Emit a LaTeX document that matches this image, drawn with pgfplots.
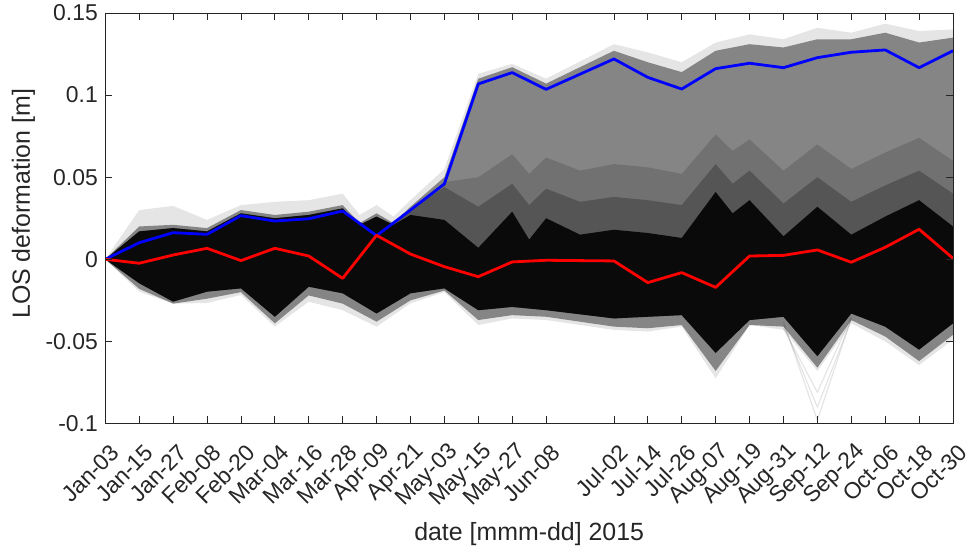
\documentclass[border=0pt]{standalone}
\usepackage{fontspec}
\setmainfont{Liberation Sans}
\usepackage{pgfplots}
\usepackage{pgfplotstable}
\pgfplotsset{compat=1.18}
\usepgfplotslibrary{fillbetween}

\definecolor{axgray}{HTML}{262626}
\definecolor{losblue}{RGB}{0,0,255}
\definecolor{losred}{RGB}{255,0,0}
\definecolor{core}{HTML}{0A0A0A}

% acquisition day of year (2015), highlighted pixels: uplift (blue) and stable (red)
\pgfplotstableread{
day  blue     red
3    0.0000   0.0000
15   0.0101  -0.0024
27   0.0162   0.0026
39   0.0152   0.0067
51   0.0266  -0.0008
63   0.0233   0.0067
75   0.0247   0.0020
87   0.0294  -0.0116
99   0.0144   0.0146
111  0.0300   0.0032
123  0.0459  -0.0045
135  0.1068  -0.0106
147  0.1137  -0.0016
159  0.1035  -0.0006
183  0.1220  -0.0010
195  0.1108  -0.0142
207  0.1037  -0.0081
219  0.1161  -0.0171
231  0.1194   0.0020
243  0.1167   0.0024
255  0.1228   0.0057
267  0.1261  -0.0018
279  0.1275   0.0073
291  0.1167   0.0183
303  0.1270   0.0006
}\highlighted

\begin{document}
\begin{tikzpicture}
\begin{axis}[
  at={(0,0)}, anchor=south west,
  scale only axis, width=847.7bp, height=410.5bp,
  xmin=3, xmax=303, ymin=-0.1, ymax=0.15,
  axis on top,
  axis line style={axgray, line width=0.8bp},
  tick style={axgray, line width=0.8bp},
  tick align=inside, tick pos=both, major tick length=7bp,
  xtick={3,15,27,39,51,63,75,87,99,111,123,135,147,159,183,195,207,219,231,243,255,267,279,291,303},
  xticklabels={Jan-03,Jan-15,Jan-27,Feb-08,Feb-20,Mar-04,Mar-16,Mar-28,Apr-09,Apr-21,May-03,May-15,May-27,Jun-08,Jul-02,Jul-14,Jul-26,Aug-07,Aug-19,Aug-31,Sep-12,Sep-24,Oct-06,Oct-18,Oct-30},
  ytick={-0.1,-0.05,0,0.05,0.1,0.15},
  yticklabels={-0.1,-0.05,0,0.05,0.1,0.15},
  x tick label style={font=\fontsize{23}{27}\selectfont, text=axgray,
    xshift=10bp, yshift=-25bp, rotate=45, anchor=east, inner sep=0bp},
  y tick label style={font=\fontsize{23}{27}\selectfont, text=axgray, xshift=-4bp},
  label style={font=\fontsize{25}{30}\selectfont, text=axgray},
  xlabel={date [mmm-dd] 2015},
  ylabel={LOS deformation [m]},
  xlabel style={at={(axis description cs:0.5,-0.286)}, anchor=base},
  ylabel style={at={(axis description cs:-0.0965,0.535)}, anchor=center},
]
% envelopes of the displacement time series of all pixels
\addplot[draw=none, name path=ft] coordinates {
  (3,0) (15,0.030) (27,0.0325) (39,0.024) (51,0.033) (63,0.035) (75,0.036)
  (87,0.040) (93,0.027) (99,0.033) (105,0.026) (111,0.036) (123,0.055)
  (135,0.113) (147,0.119) (159,0.110) (183,0.131) (195,0.126) (207,0.120)
  (219,0.132) (231,0.137) (243,0.134) (255,0.141) (267,0.138) (279,0.1435)
  (291,0.139) (303,0.140)};
\addplot[draw=none, name path=gt] coordinates {
  (3,0) (15,0.020) (27,0.021) (39,0.019) (51,0.030) (63,0.027) (75,0.029)
  (87,0.033) (93,0.022) (99,0.028) (105,0.022) (111,0.032) (123,0.050)
  (135,0.110) (147,0.117) (159,0.107) (183,0.127) (195,0.120) (207,0.114)
  (219,0.127) (231,0.131) (243,0.129) (255,0.134) (267,0.134) (279,0.138)
  (291,0.132) (303,0.135)};
\addplot[draw=none, name path=ut] coordinates {
  (3,0) (15,0.017) (27,0.019) (39,0.017) (51,0.028) (63,0.025) (75,0.027)
  (87,0.031) (93,0.021) (99,0.026) (105,0.021) (111,0.031) (123,0.047)
  (135,0.050) (147,0.064) (153,0.052) (159,0.062) (171,0.054) (183,0.058)
  (195,0.056) (207,0.052) (219,0.076) (225,0.066) (231,0.073) (243,0.054)
  (255,0.070) (267,0.055) (279,0.065) (291,0.074) (303,0.060)};
\addplot[draw=none, name path=mt] coordinates {
  (3,0) (15,0.017) (27,0.019) (39,0.017) (51,0.028) (63,0.025) (75,0.027)
  (87,0.031) (93,0.021) (99,0.026) (105,0.021) (111,0.030) (123,0.044)
  (135,0.032) (147,0.046) (153,0.033) (159,0.043) (171,0.035) (183,0.038)
  (195,0.036) (207,0.033) (219,0.058) (225,0.046) (231,0.054) (243,0.034)
  (255,0.050) (267,0.035) (279,0.045) (291,0.054) (303,0.040)};
\addplot[draw=none, name path=ct] coordinates {
  (3,0) (15,0.017) (27,0.019) (39,0.017) (51,0.028) (63,0.025) (75,0.027)
  (87,0.031) (93,0.021) (99,0.026) (105,0.021) (111,0.027) (123,0.024)
  (135,0.007) (147,0.029) (153,0.012) (159,0.025) (171,0.015) (183,0.018)
  (195,0.016) (207,0.013) (219,0.041) (225,0.028) (231,0.036) (243,0.014)
  (255,0.032) (267,0.015) (279,0.026) (291,0.036) (303,0.020)};
\addplot[draw=none, name path=cb] coordinates {
  (3,0) (15,-0.0146) (27,-0.0258) (39,-0.0197) (51,-0.0177) (63,-0.035)
  (75,-0.0167) (87,-0.0207) (99,-0.033) (111,-0.0207) (123,-0.0177)
  (135,-0.031) (147,-0.029) (159,-0.031) (183,-0.036) (195,-0.035)
  (207,-0.034) (219,-0.057) (231,-0.037) (243,-0.035) (255,-0.059)
  (267,-0.033) (279,-0.041) (291,-0.055) (303,-0.039)};
\addplot[draw=none, name path=db] coordinates {
  (3,0) (15,-0.018) (27,-0.027) (39,-0.024) (51,-0.020) (63,-0.039)
  (75,-0.022) (87,-0.027) (99,-0.038) (111,-0.025) (123,-0.019)
  (135,-0.037) (147,-0.034) (159,-0.035) (183,-0.041) (195,-0.042)
  (207,-0.040) (219,-0.068) (231,-0.040) (243,-0.041) (255,-0.066)
  (267,-0.037) (279,-0.047) (291,-0.062) (303,-0.046)};
\addplot[draw=none, name path=fb] coordinates {
  (3,0) (15,-0.0197) (27,-0.027) (39,-0.0266) (51,-0.0217) (63,-0.041)
  (75,-0.0258) (87,-0.031) (99,-0.041) (111,-0.0268) (123,-0.020)
  (135,-0.040) (147,-0.036) (159,-0.037) (183,-0.043) (195,-0.044)
  (207,-0.041) (219,-0.0725) (231,-0.040) (243,-0.043) (255,-0.068)
  (267,-0.039) (279,-0.050) (291,-0.0644) (303,-0.049)};

% density shading: faint outer spread, grey spread, dense core
\addplot[black, fill opacity=0.10] fill between[of=ft and fb];
\addplot[black, fill opacity=0.42] fill between[of=gt and db];
\addplot[black, fill opacity=0.15] fill between[of=ut and cb];
\addplot[black, fill opacity=0.25] fill between[of=mt and cb];
\addplot[core] fill between[of=ct and cb];

% a few isolated pixels dropping on Sep-12
\addplot[black, opacity=0.10, line width=1.2bp] coordinates {(243,-0.038) (255,-0.098) (267,-0.036)};
\addplot[black, opacity=0.10, line width=1.2bp] coordinates {(243,-0.040) (255,-0.090) (267,-0.037)};
\addplot[black, opacity=0.10, line width=1.2bp] coordinates {(243,-0.042) (255,-0.081) (267,-0.035)};

% highlighted pixels
\addplot[losblue, line width=2.8bp, line join=round] table[x=day, y=blue] {\highlighted};
\addplot[losred, line width=2.8bp, line join=round] table[x=day, y=red] {\highlighted};
\end{axis}
\pgfresetboundingbox
\path (-105.3bp,-123.5bp) rectangle (865.7bp,423.5bp);
\end{tikzpicture}
\end{document}
